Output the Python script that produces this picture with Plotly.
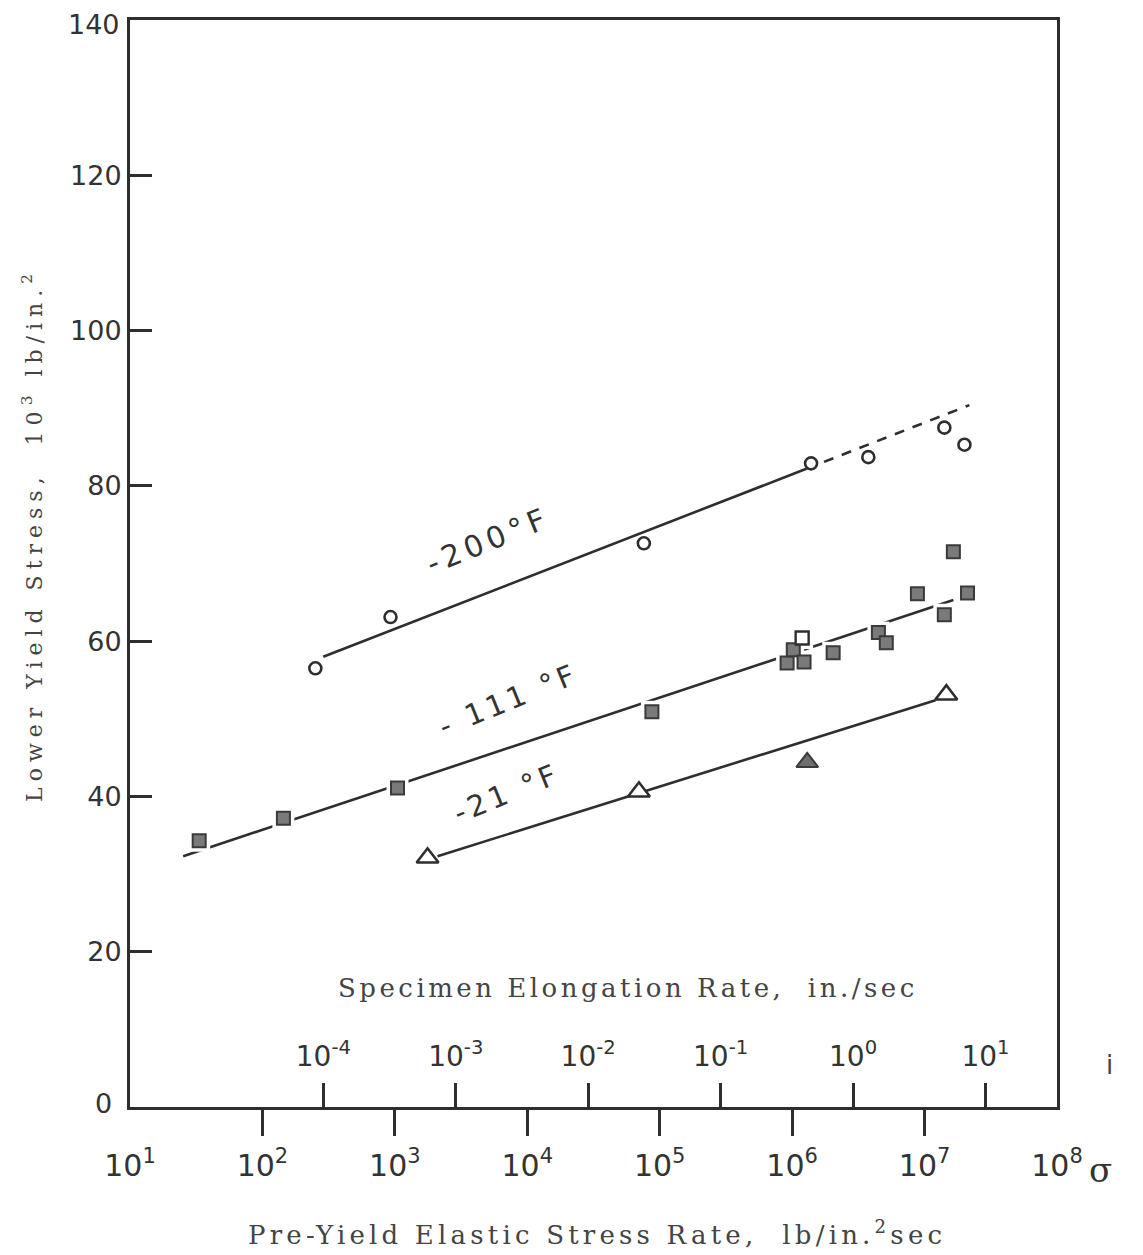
import plotly.graph_objects as go

# ---------------- data ----------------
# -200 F : open circles
c200_rate = [251, 927, 7.59e4, 1.39e6, 3.76e6, 1.41e7, 2.00e7]
c200_stress = [56.5, 63.1, 72.6, 82.9, 83.7, 87.5, 85.3]
l200_solid_rate = [288, 1.28e6]
l200_solid_stress = [58.0, 82.2]
l200_dash_rate = [1.28e6, 2.18e7]
l200_dash_stress = [82.2, 90.4]

# -111 F : filled squares (+ one open square)
s111_rate = [33.3, 144, 1047, 8.73e4, 9.16e5, 1.02e6, 1.23e6, 2.04e6,
             4.48e6, 5.14e6, 8.83e6, 1.41e7, 1.65e7, 2.11e7]
s111_stress = [34.3, 37.2, 41.1, 50.9, 57.2, 58.9, 57.3, 58.5,
               61.1, 59.8, 66.1, 63.4, 71.5, 66.2]
s111_open_rate = [1.19e6]
s111_open_stress = [60.4]
l111_rate = [25.2, 1.65e7]
l111_stress = [32.3, 65.3]

# -21 F : open triangles (+ one filled triangle)
t21_rate = [1766, 6.97e4, 1.46e7]
t21_stress = [32.1, 40.6, 53.1]
t21_fill_rate = [1.30e6]
t21_fill_stress = [44.4]
l21_rate = [2100, 1.21e7]
l21_stress = [32.3, 52.4]

# axes
stress_rate_labels_at = [1e1, 1e2, 1e3, 1e4, 1e5, 1e6, 1e7, 1e8]
stress_rate_ticks_at = [1e2, 1e3, 1e4, 1e5, 1e6, 1e7]
stress_rate_labels = ["10<sup>1</sup>", "10<sup>2</sup>", "10<sup>3</sup>", "10<sup>4</sup>",
                      "10<sup>5</sup>", "10<sup>6</sup>", "10<sup>7</sup>", "10<sup>8</sup>"]
elong_ticks_at = [1e-4, 1e-3, 1e-2, 1e-1, 1e0, 1e1]
elong_labels = ["10<sup>-4</sup>", "10<sup>-3</sup>", "10<sup>-2</sup>",
                "10<sup>-1</sup>", "10<sup>0</sup>", "10<sup>1</sup>"]
y_ticks = [20, 40, 60, 80, 100, 120, 140]
y_edge_labels = [0, 140]   # drawn as annotations (axis would hide them at the frame edges)
ELONG_LOG_OFFSET = 6.46   # log10(stress rate) - log10(elongation rate)

INK = "#2e2e2e"
SANS = "DejaVu Sans"
SERIF = "DejaVu Serif"

fig = go.Figure()

def line(x, y, dash="solid"):
    fig.add_trace(go.Scatter(x=x, y=y, mode="lines",
                             line=dict(color=INK, width=2.6, dash=dash),
                             showlegend=False, hoverinfo="skip"))

line(l200_solid_rate, l200_solid_stress)
line(l200_dash_rate, l200_dash_stress, dash="10px,9px")
line(l111_rate, l111_stress)
line(l21_rate, l21_stress)

# white halos around squares (gaps in the line)
fig.add_trace(go.Scatter(x=s111_rate + s111_open_rate, y=s111_stress + s111_open_stress,
                         mode="markers",
                         marker=dict(symbol="square", size=22, color="white"),
                         showlegend=False, hoverinfo="skip"))

fig.add_trace(go.Scatter(x=c200_rate, y=c200_stress, mode="markers",
                         marker=dict(symbol="circle", size=12, color="white",
                                     line=dict(color=INK, width=2.6)),
                         showlegend=False))
fig.add_trace(go.Scatter(x=s111_rate, y=s111_stress, mode="markers",
                         marker=dict(symbol="square", size=13, color="#7a7a7a",
                                     line=dict(color="#3a3a3a", width=2)),
                         showlegend=False))
fig.add_trace(go.Scatter(x=s111_open_rate, y=s111_open_stress, mode="markers",
                         marker=dict(symbol="square", size=13, color="white",
                                     line=dict(color=INK, width=2.4)),
                         showlegend=False))
fig.add_trace(go.Scatter(x=t21_rate, y=t21_stress, mode="markers",
                         marker=dict(symbol="triangle-up", size=19, color="white",
                                     line=dict(color=INK, width=2.6)),
                         showlegend=False))
fig.add_trace(go.Scatter(x=t21_fill_rate, y=t21_fill_stress, mode="markers",
                         marker=dict(symbol="triangle-up", size=19, color="#6e6e6e",
                                     line=dict(color="#3a3a3a", width=2)),
                         showlegend=False))

# dummy traces so the overlaid axes are built
fig.add_trace(go.Scatter(x=elong_ticks_at, y=[None] * len(elong_ticks_at), xaxis="x2",
                         mode="markers", showlegend=False, hoverinfo="skip"))
fig.add_trace(go.Scatter(x=stress_rate_ticks_at, y=[None] * len(stress_rate_ticks_at), xaxis="x3",
                         mode="markers", showlegend=False, hoverinfo="skip"))

fig.update_layout(
    width=1143, height=1255,
    margin=dict(l=122, r=94, t=12, b=156, autoexpand=False),
    paper_bgcolor="white", plot_bgcolor="white",
    font=dict(family=SANS, color=INK),
    xaxis=dict(type="log", range=[1, 8], tickvals=stress_rate_labels_at,
               ticktext=stress_rate_labels, ticks="", ticklabelstandoff=30,
               tickfont=dict(size=30, family=SANS, color="#333"),
               showline=True, linewidth=3, linecolor=INK, mirror=True,
               showgrid=False, zeroline=False, automargin=False),
    xaxis3=dict(type="log", range=[1, 8], overlaying="x", anchor="y", side="bottom",
                tickvals=stress_rate_ticks_at, showticklabels=False,
                ticks="outside", ticklen=28, tickwidth=3, tickcolor=INK,
                showline=False, showgrid=False, zeroline=False, automargin=False),
    xaxis2=dict(type="log", range=[1 - ELONG_LOG_OFFSET, 8 - ELONG_LOG_OFFSET],
                overlaying="x", anchor="y", side="bottom",
                tickvals=elong_ticks_at, ticktext=elong_labels,
                ticks="inside", ticklen=24, tickwidth=3, tickcolor=INK,
                ticklabelposition="inside", ticklabelstandoff=14,
                tickfont=dict(size=28, family=SANS, color="#333"),
                showline=False, showgrid=False, zeroline=False, automargin=False),
    yaxis=dict(range=[0, 140], tickvals=y_ticks, ticks="inside", ticklen=22,
               tickwidth=2.5, tickcolor=INK,
               tickfont=dict(size=27, family=SANS, color="#333"),
               showline=True, linewidth=3, linecolor=INK, mirror=True,
               showgrid=False, zeroline=False, automargin=False),
)

def spaced(txt, px):
    return f'<span style="letter-spacing:{px}px">{txt}</span>'

ann = []
for v in y_edge_labels:
    ann.append(dict(text=str(v), xref="paper", yref="y", x=0, y=v, xanchor="right",
                    yanchor="middle", xshift=-8 if v else -16, yshift=4 if v == 0 else -4,
                    showarrow=False, font=dict(family=SANS, size=27, color="#333")))
ann.append(dict(text=spaced("Lower Yield Stress,  10<sup>3</sup> lb/in.<sup>2</sup>", 6),
                xref="paper", yref="paper", x=-0.105, y=0.526, textangle=-90,
                xanchor="center", yanchor="middle",
                showarrow=False, font=dict(family=SERIF, size=22, color="#444")))
ann.append(dict(text=spaced("Pre-Yield Elastic Stress Rate,  lb/in.<sup>2</sup>sec", 4.2),
                xref="paper", yref="paper", x=0.504, y=-0.116,
                xanchor="center", yanchor="middle",
                showarrow=False, font=dict(family=SERIF, size=26, color="#444")))
ann.append(dict(text=spaced("Specimen Elongation Rate,  in./sec", 3.5),
                xref="paper", yref="y", x=0.537, y=15.3,
                xanchor="center", yanchor="middle",
                showarrow=False, font=dict(family=SERIF, size=26, color="#444")))
ann.append(dict(text="σ", xref="paper", yref="paper", x=1.047, y=-0.058,
                xanchor="center", yanchor="middle",
                showarrow=False, font=dict(family=SERIF, size=34, color="#333")))
ann.append(dict(text="i", xref="paper", yref="paper", x=1.057, y=0.039,
                xanchor="center", yanchor="middle",
                showarrow=False, font=dict(family=SANS, size=26, color="#444")))
# curve labels (x in log10 units on the log axis)
ann.append(dict(text=spaced("-200°F", 5), xref="x", yref="y", x=3.70, y=73.0, textangle=-22,
                xanchor="center", yanchor="middle",
                showarrow=False, font=dict(family=SANS, size=30, color="#333")))
ann.append(dict(text=spaced("- 111 °F", 4), xref="x", yref="y", x=3.86, y=52.4, textangle=-22,
                xanchor="center", yanchor="middle",
                showarrow=False, font=dict(family=SANS, size=29, color="#333")))
ann.append(dict(text=spaced("-21 °F", 4), xref="x", yref="y", x=3.85, y=40.4, textangle=-22,
                xanchor="center", yanchor="middle",
                showarrow=False, font=dict(family=SANS, size=29, color="#333")))
fig.update_layout(annotations=ann)

fig.write_html("out.html")
